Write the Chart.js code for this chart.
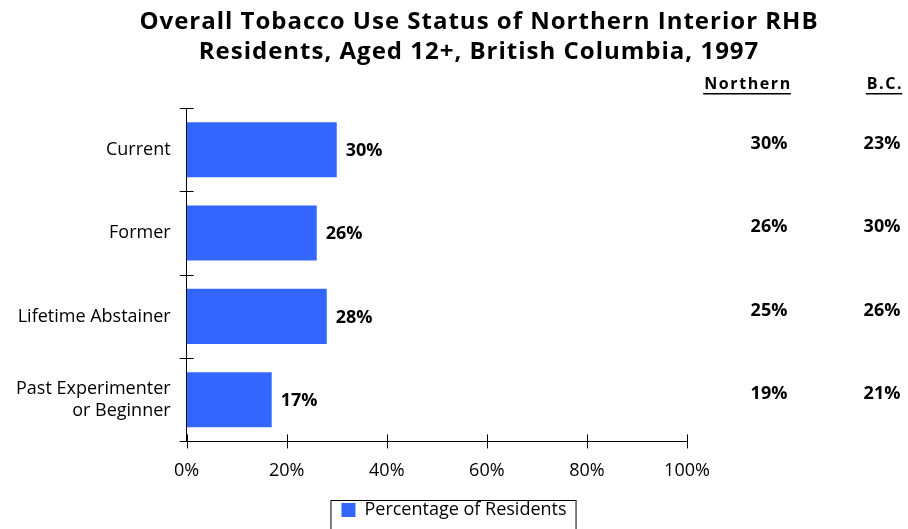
<!DOCTYPE html>
<html>
<head>
<meta charset="utf-8">
<script src="https://cdn.jsdelivr.net/npm/chart.js@4"></script>
<style>
  body { margin: 0; background: #fff; }
  #wrap { width: 908px; height: 529px; }
</style>
</head>
<body>
<div id="wrap"><canvas id="chart" width="908" height="529"></canvas></div>
<script>
// categories and values
const categories = ['Current', 'Former', 'Lifetime Abstainer', ['Past Experimenter', 'or Beginner']];
const residentPct = [30, 26, 28, 17];
const northernPct = [30, 26, 25, 19];
const bcPct = [23, 30, 26, 21];
const tableHeaders = ['Northern', 'B.C.'];
const xTicks = [0, 20, 40, 60, 80, 100];
const titleLines = ['Overall Tobacco Use Status of Northern Interior RHB', 'Residents, Aged 12+, British Columbia, 1997'];

const FONT = '"Open Sans", sans-serif';

// title, bar value labels, the small table on the right, cross ticks, legend frame
const extras = {
  id: 'extras',
  afterDraw(chart) {
    const ctx = chart.ctx;
    const meta = chart.getDatasetMeta(0);
    const y = chart.scales.y;
    ctx.save();
    ctx.fillStyle = '#000';
    ctx.textBaseline = 'middle';

    // title
    ctx.textAlign = 'center';
    ctx.font = 'bold 24px ' + FONT;
    ctx.letterSpacing = '1px';
    titleLines.forEach((t, i) => ctx.fillText(t, 479, 22 + i * 30));
    ctx.letterSpacing = '0px';

    ctx.font = 'bold 18px ' + FONT;
    ctx.textAlign = 'left';
    meta.data.forEach((bar, i) => {
      ctx.fillText(residentPct[i] + '%', bar.x + 9, bar.y + 1);
    });

    // table
    ctx.textAlign = 'center';
    ctx.font = 'bold 16px ' + FONT;
    ctx.letterSpacing = '1.6px';
    const hx = [747, 884];
    tableHeaders.forEach((h, j) => {
      const w = ctx.measureText(h).width;
      ctx.fillText(h, hx[j] + 1, 84);
      ctx.fillRect(hx[j] - w / 2, 93, w, 1.5);
    });
    ctx.letterSpacing = '0px';
    ctx.font = 'bold 18px ' + FONT;
    const cols = [769, 882];
    categories.forEach((c, i) => {
      const py = y.getPixelForValue(i) - 6;
      ctx.fillText(northernPct[i] + '%', cols[0], py);
      ctx.fillText(bcPct[i] + '%', cols[1], py);
    });

    // cross ticks on both axes
    const a = chart.chartArea;
    ctx.strokeStyle = '#000';
    ctx.lineWidth = 1;
    ctx.beginPath();
    const band = (y.getPixelForValue(1) - y.getPixelForValue(0));
    for (let i = 0; i <= categories.length; i++) {
      const ty = Math.round(y.getPixelForValue(i) - band / 2) + 0.5;
      ctx.moveTo(a.left - 7, ty);
      ctx.lineTo(a.left + 7, ty);
    }
    const x = chart.scales.x;
    xTicks.forEach(v => {
      const tx = Math.round(x.getPixelForValue(v)) + 0.5;
      ctx.moveTo(tx, a.bottom - 7);
      ctx.lineTo(tx, a.bottom + 7);
    });
    ctx.stroke();

    // legend border
    const lg = chart.legend;
    const item = lg.legendHitBoxes[0];
    if (item) {
      ctx.strokeStyle = '#000';
      ctx.strokeRect(item.left - 10.5, lg.top + 0.5, item.width + 20, lg.height + 6);
    }
    ctx.restore();
  }
};

new Chart(document.getElementById('chart'), {
  type: 'bar',
  data: {
    labels: categories,
    datasets: [{
      label: 'Percentage of Residents',
      data: residentPct,
      backgroundColor: '#3366FF',
      borderWidth: 0,
      barPercentage: 0.66,
      categoryPercentage: 1
    }]
  },
  options: {
    indexAxis: 'y',
    responsive: false,
    animation: false,
    layout: { padding: { left: 0, right: 0, top: 108, bottom: 0 } },
    scales: {
      x: {
        min: 0,
        max: 100,
        grid: { display: false, drawTicks: false },
        border: { color: '#000', width: 1 },
        afterBuildTicks: s => { s.ticks = xTicks.map(v => ({ value: v })); },
        ticks: {
          color: '#000',
          padding: 18.5,
          font: { family: FONT, size: 18 },
          callback: v => v + '%'
        }
      },
      y: {
        grid: { display: false, drawTicks: false },
        border: { color: '#000', width: 1 },
        ticks: {
          color: '#000',
          padding: 16,
          font: { family: FONT, size: 18 }
        }
      },
      // empty right-hand axis that keeps room for the table
      yRight: {
        type: 'category',
        position: 'right',
        grid: { display: false, drawTicks: false },
        border: { display: false },
        ticks: { display: false },
        afterFit: s => { s.width = 221; }
      }
    },
    plugins: {
      title: { display: false },
      legend: {
        position: 'bottom',
        labels: {
          color: '#000',
          boxWidth: 14,
          boxHeight: 14,
          padding: 1,
          font: { family: FONT, size: 18 }
        }
      },
      tooltip: { enabled: false }
    }
  },
  plugins: [extras]
});
</script>
</body>
</html>
